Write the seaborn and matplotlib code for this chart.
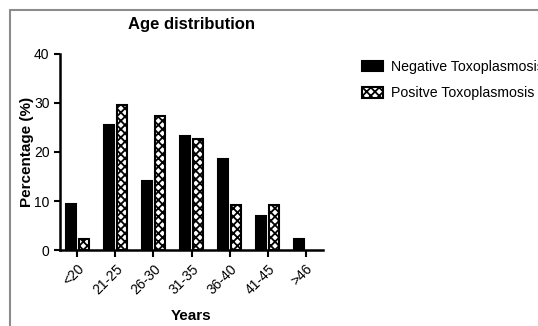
import matplotlib
matplotlib.use("Agg")
import matplotlib.pyplot as plt
from matplotlib.patches import Patch
from matplotlib.lines import Line2D
import seaborn as sns
import pandas as pd

# Age groups and share of women (%) in each toxoplasmosis group
age_groups = ["<20", "21-25", "26-30", "31-35", "36-40", "41-45", ">46"]
negative_pct = [9.3, 25.6, 14.0, 23.3, 18.6, 7.0, 2.3]
positive_pct = [2.3, 29.5, 27.3, 22.7, 9.1, 9.1, 0.0]
group_names = ["Negative Toxoplasmosis", "Positve Toxoplasmosis"]

df = pd.DataFrame({
    "age": age_groups * 2,
    "pct": negative_pct + positive_pct,
    "group": [group_names[0]] * len(age_groups) + [group_names[1]] * len(age_groups),
})

sns.set_style("ticks")
plt.rcParams["font.family"] = ["Liberation Sans", "DejaVu Sans"]
plt.rcParams["hatch.linewidth"] = 1.3
plt.rcParams["hatch.color"] = "black"
for key in ("text.color", "axes.labelcolor", "xtick.color", "ytick.color", "axes.edgecolor"):
    plt.rcParams[key] = "black"

fig = plt.figure(figsize=(5.38, 3.26), dpi=100)
ax = fig.add_axes([0.1115, 0.2331, 0.4889, 0.6013])

sns.barplot(data=df, x="age", y="pct", hue="group", order=age_groups,
            hue_order=group_names, palette=["black", "white"],
            edgecolor="black", linewidth=1.5, width=0.7, gap=0.28,
            legend=False, ax=ax)

# checkered fill for the positive group; empty bars leave no outline
n = len(age_groups)
for patch in ax.patches[n:2 * n]:
    patch.set_hatch("xxxx")
for patch in ax.patches:
    if patch.get_height() == 0:
        patch.set_visible(False)

ax.set_xlim(-0.46, 6.46)
ax.set_ylim(0, 40)
ax.set_yticks([0, 10, 20, 30, 40])
sns.despine(ax=ax)
for side in ("left", "bottom"):
    ax.spines[side].set_linewidth(1.8)
ax.tick_params(axis="both", direction="out", width=1.5, labelsize=10, length=4)
ax.tick_params(axis="x", length=5)
plt.setp(ax.get_xticklabels(), rotation=45, ha="right", rotation_mode="anchor")

ax.set_title("Age distribution", fontsize=12, fontweight="bold", pad=18)
ax.set_ylabel("Percentage (%)", fontsize=11, fontweight="bold", labelpad=0)
ax.set_xlabel("Years", fontsize=11, fontweight="bold", labelpad=9)

handles = [
    Patch(facecolor="black", edgecolor="black", linewidth=1.5),
    Patch(facecolor="white", edgecolor="black", linewidth=1.5, hatch="xxxx"),
]
fig.legend(handles, group_names, loc="upper left", bbox_to_anchor=(0.672, 0.817),
           frameon=False, fontsize=10.2, handlelength=1.5, handleheight=0.75,
           handletextpad=0.6, labelspacing=0.9, borderpad=0, borderaxespad=0)

# outer frame of the figure panel
frame_kw = dict(color="#8c8c8c", linewidth=1.5, transform=fig.transFigure)
fig.add_artist(Line2D([0.0186, 1.0], [0.9693, 0.9693], **frame_kw))
fig.add_artist(Line2D([0.0186, 0.0186], [0.0, 0.9693], **frame_kw))

fig.savefig("out.png", dpi=100)
